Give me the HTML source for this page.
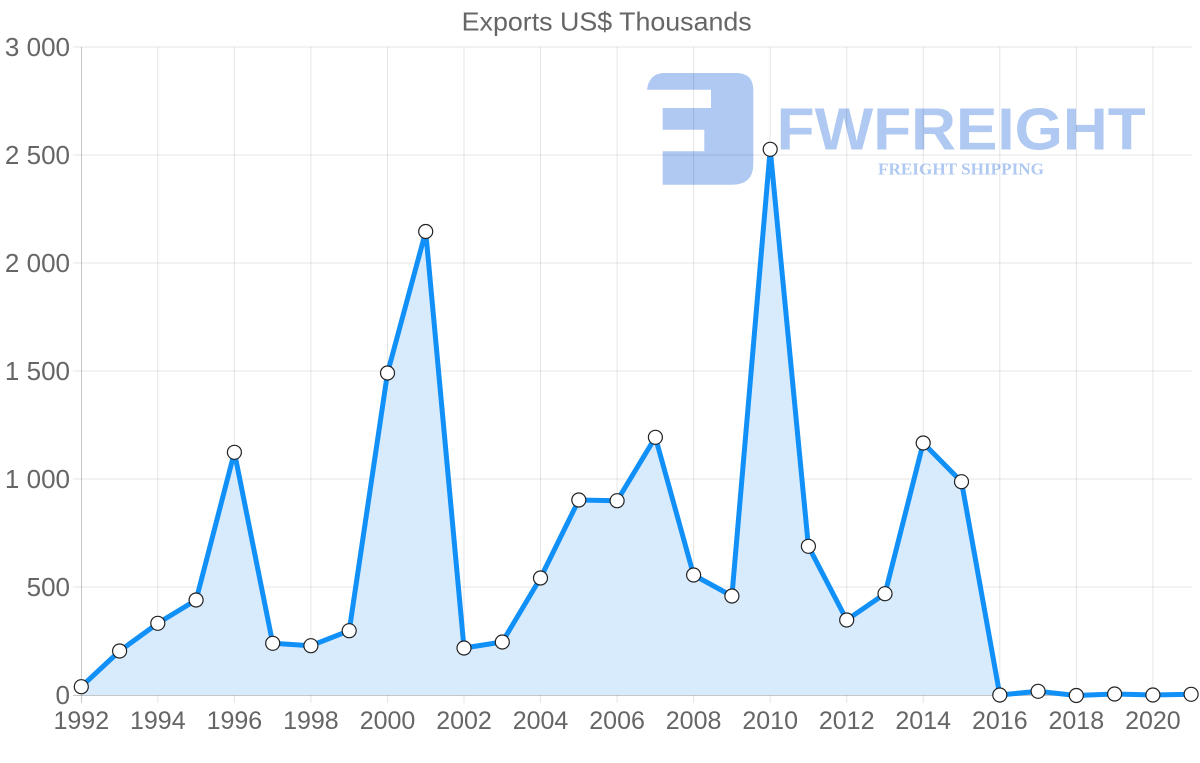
<!DOCTYPE html>
<html>
<head>
<meta charset="utf-8">
<style>
html,body{margin:0;padding:0;background:#fff;}
svg{display:block;}
text{font-family:"Liberation Sans",Arial,sans-serif;fill:#666;}
</style>
</head>
<body>
<svg width="1200" height="763" viewBox="0 0 1200 763" xmlns="http://www.w3.org/2000/svg">
  <rect width="1200" height="763" fill="#fff"/>

  <!-- watermark -->
  <g fill="#afc9f2">
    <path d="M647,89.7 Q649,74 663,73 L736,73 Q753.3,73 753.3,90 L753.3,164 Q753.3,184.7 732,184.7 L662.7,184.7 L662.7,151.3 L704.3,151.3 L704.3,129.7 L662.7,129.7 L662.7,108 L711,108 L711,89.7 Z"/>
    <text x="776.7" y="149.3" font-size="59" font-weight="bold" textLength="369" lengthAdjust="spacingAndGlyphs" style="fill:#afc9f2">FWFREIGHT</text>
    <text x="878" y="174.3" font-size="16.5" font-weight="bold" textLength="166" lengthAdjust="spacingAndGlyphs" style="fill:#afc9f2;font-family:'Liberation Serif',serif">FREIGHT SHIPPING</text>
  </g>

  <!-- horizontal grid -->
  <g stroke="rgba(0,0,0,0.1)" stroke-width="1">
    <line x1="73" y1="47" x2="1192" y2="47"/>
    <line x1="73" y1="155" x2="1192" y2="155"/>
    <line x1="73" y1="263" x2="1192" y2="263"/>
    <line x1="73" y1="371" x2="1192" y2="371"/>
    <line x1="73" y1="479" x2="1192" y2="479"/>
    <line x1="73" y1="587" x2="1192" y2="587"/>
  </g>
  <!-- vertical grid -->
  <g stroke="rgba(0,0,0,0.1)" stroke-width="1">
    <line x1="157.8" y1="47" x2="157.8" y2="703"/>
    <line x1="234.4" y1="47" x2="234.4" y2="703"/>
    <line x1="310.9" y1="47" x2="310.9" y2="703"/>
    <line x1="387.5" y1="47" x2="387.5" y2="703"/>
    <line x1="464.0" y1="47" x2="464.0" y2="703"/>
    <line x1="540.5" y1="47" x2="540.5" y2="703"/>
    <line x1="617.1" y1="47" x2="617.1" y2="703"/>
    <line x1="693.6" y1="47" x2="693.6" y2="703"/>
    <line x1="770.2" y1="47" x2="770.2" y2="703"/>
    <line x1="846.7" y1="47" x2="846.7" y2="703"/>
    <line x1="923.2" y1="47" x2="923.2" y2="703"/>
    <line x1="999.8" y1="47" x2="999.8" y2="703"/>
    <line x1="1076.3" y1="47" x2="1076.3" y2="703"/>
    <line x1="1152.9" y1="47" x2="1152.9" y2="703"/>
  </g>
  <!-- axes -->
  <g stroke="rgba(0,0,0,0.22)" stroke-width="1">
    <line x1="81.5" y1="47" x2="81.5" y2="703"/>
    <line x1="73" y1="695.5" x2="1192" y2="695.5"/>
  </g>

  <!-- area fill -->
  <polygon fill="#d8ebfd" points="81.3,695 81.3,686.7 119.6,651 157.8,623.3 196.1,600 234.4,452.3 272.7,643.3 310.9,645.7 349.2,630.7 387.5,373 425.7,231.5 464.0,648 502.3,642 540.5,578 578.8,500 617.1,500.7 655.4,437.3 693.6,575 731.9,596 770.2,149.3 808.4,546.3 846.7,620 885.0,593.7 923.2,443 961.5,481.7 999.8,695 1038.1,691.3 1076.3,695.5 1114.6,694 1152.9,695 1191.1,694.3 1191.1,695"/>

  <!-- line -->
  <polyline fill="none" stroke="#1190f8" stroke-width="5" stroke-linejoin="round" points="81.3,686.7 119.6,651 157.8,623.3 196.1,600 234.4,452.3 272.7,643.3 310.9,645.7 349.2,630.7 387.5,373 425.7,231.5 464.0,648 502.3,642 540.5,578 578.8,500 617.1,500.7 655.4,437.3 693.6,575 731.9,596 770.2,149.3 808.4,546.3 846.7,620 885.0,593.7 923.2,443 961.5,481.7 999.8,695 1038.1,691.3 1076.3,695.5 1114.6,694 1152.9,695 1191.1,694.3"/>

  <!-- points -->
  <g fill="#fff" stroke="#222" stroke-width="1.2">
    <circle cx="81.3" cy="686.7" r="7"/>
    <circle cx="119.6" cy="651" r="7"/>
    <circle cx="157.8" cy="623.3" r="7"/>
    <circle cx="196.1" cy="600" r="7"/>
    <circle cx="234.4" cy="452.3" r="7"/>
    <circle cx="272.7" cy="643.3" r="7"/>
    <circle cx="310.9" cy="645.7" r="7"/>
    <circle cx="349.2" cy="630.7" r="7"/>
    <circle cx="387.5" cy="373" r="7"/>
    <circle cx="425.7" cy="231.5" r="7"/>
    <circle cx="464.0" cy="648" r="7"/>
    <circle cx="502.3" cy="642" r="7"/>
    <circle cx="540.5" cy="578" r="7"/>
    <circle cx="578.8" cy="500" r="7"/>
    <circle cx="617.1" cy="500.7" r="7"/>
    <circle cx="655.4" cy="437.3" r="7"/>
    <circle cx="693.6" cy="575" r="7"/>
    <circle cx="731.9" cy="596" r="7"/>
    <circle cx="770.2" cy="149.3" r="7"/>
    <circle cx="808.4" cy="546.3" r="7"/>
    <circle cx="846.7" cy="620" r="7"/>
    <circle cx="885.0" cy="593.7" r="7"/>
    <circle cx="923.2" cy="443" r="7"/>
    <circle cx="961.5" cy="481.7" r="7"/>
    <circle cx="999.8" cy="695" r="7"/>
    <circle cx="1038.1" cy="691.3" r="7"/>
    <circle cx="1076.3" cy="695.5" r="7"/>
    <circle cx="1114.6" cy="694" r="7"/>
    <circle cx="1152.9" cy="695" r="7"/>
    <circle cx="1191.1" cy="694.3" r="7"/>
  </g>

  <!-- title -->
  <text x="606.7" y="30.5" font-size="26" text-anchor="middle" textLength="290" lengthAdjust="spacingAndGlyphs">Exports US$ Thousands</text>

  <!-- y labels -->
  <g font-size="26" text-anchor="end">
    <text x="70" y="56">3 000</text>
    <text x="70" y="164">2 500</text>
    <text x="70" y="272">2 000</text>
    <text x="70" y="380">1 500</text>
    <text x="70" y="488">1 000</text>
    <text x="70" y="596">500</text>
    <text x="70" y="704">0</text>
  </g>

  <!-- x labels -->
  <g font-size="25" text-anchor="middle">
    <text x="81.3" y="729">1992</text>
    <text x="157.8" y="729">1994</text>
    <text x="234.4" y="729">1996</text>
    <text x="310.9" y="729">1998</text>
    <text x="387.5" y="729">2000</text>
    <text x="464.0" y="729">2002</text>
    <text x="540.5" y="729">2004</text>
    <text x="617.1" y="729">2006</text>
    <text x="693.6" y="729">2008</text>
    <text x="770.2" y="729">2010</text>
    <text x="846.7" y="729">2012</text>
    <text x="923.2" y="729">2014</text>
    <text x="999.8" y="729">2016</text>
    <text x="1076.3" y="729">2018</text>
    <text x="1152.9" y="729">2020</text>
  </g>
</svg>
</body>
</html>
